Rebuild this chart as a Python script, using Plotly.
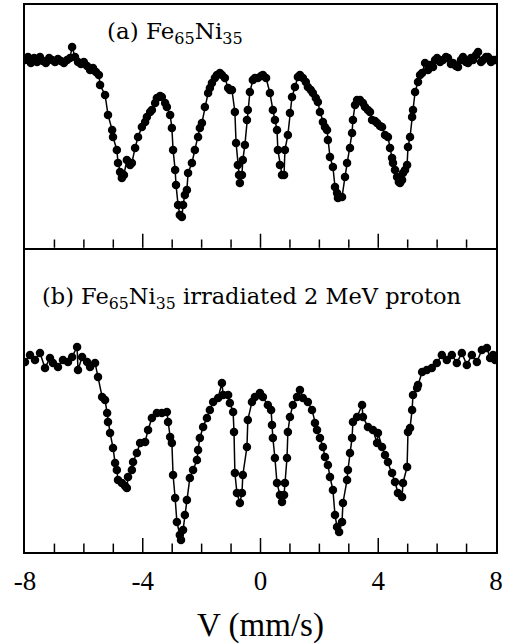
import plotly.graph_objects as go

# (a) Fe65Ni35 -- velocity (mm/s) and relative transmission (%)
v_a = [-8.00, -7.90, -7.80, -7.69, -7.59, -7.49, -7.39, -7.29, -7.18, -7.08,
       -6.98, -6.88, -6.78, -6.68, -6.57, -6.47, -6.40, -6.30, -6.20, -6.10,
       -6.00, -5.89, -5.79, -5.69, -5.59, -5.49, -5.45, -5.28, -5.18, -5.04,
       -5.01, -4.88, -4.84, -4.77, -4.71, -4.64, -4.54, -4.43, -4.37, -4.26,
       -4.16, -4.03, -3.92, -3.86, -3.75, -3.69, -3.58, -3.52, -3.41, -3.35,
       -3.24, -3.18, -3.07, -3.01, -2.97, -2.90, -2.87, -2.80, -2.74, -2.67,
       -2.63, -2.57, -2.50, -2.46, -2.33, -2.23, -2.12, -2.06, -1.99, -1.89,
       -1.78, -1.72, -1.65, -1.55, -1.48, -1.38, -1.31, -1.21, -1.10, -1.04,
       -0.97, -0.87, -0.83, -0.77, -0.73, -0.70, -0.63, -0.60, -0.53, -0.46,
       -0.43, -0.36, -0.26, -0.19, -0.09, 0.02, 0.08, 0.19, 0.32, 0.42,
       0.49, 0.56, 0.59, 0.66, 0.73, 0.80, 0.83, 0.93, 1.00, 1.07,
       1.17, 1.27, 1.34, 1.44, 1.54, 1.61, 1.71, 1.78, 1.88, 1.95,
       2.02, 2.12, 2.19, 2.26, 2.29, 2.36, 2.46, 2.53, 2.60, 2.63,
       2.70, 2.77, 2.87, 2.94, 3.04, 3.11, 3.14, 3.21, 3.28, 3.38,
       3.48, 3.55, 3.65, 3.72, 3.79, 3.89, 3.96, 4.06, 4.13, 4.23,
       4.33, 4.40, 4.47, 4.50, 4.57, 4.64, 4.70, 4.74, 4.81, 4.84,
       4.91, 4.98, 5.01, 5.08, 5.15, 5.18, 5.25, 5.35, 5.42, 5.49,
       5.59, 5.69, 5.76, 5.86, 5.93, 6.00, 6.10, 6.20, 6.30, 6.37,
       6.47, 6.54, 6.64, 6.71, 6.81, 6.88, 6.98, 7.05, 7.15, 7.22,
       7.32, 7.39, 7.49, 7.56, 7.66, 7.73, 7.83, 7.90, 7.97]
t_a = [100.0, 100.15, 99.85, 100.1, 99.9, 100.15, 99.95, 99.85, 100.1, 100.0,
       99.9, 100.05, 99.95, 99.85, 100.0, 100.1, 100.65, 100.15, 99.9, 99.8,
       99.9, 99.7, 99.5, 99.6, 99.4, 99.25, 98.75, 98.25, 97.25, 96.5,
       96.15, 95.5, 94.85, 94.4, 94.1, 94.25, 95.0, 94.75, 94.85, 95.6,
       96.15, 96.65, 96.9, 97.15, 97.4, 97.5, 97.85, 98.1, 98.2, 98.15,
       97.85, 97.65, 97.25, 96.6, 95.5, 94.5, 93.75, 92.75, 92.25, 92.15,
       92.75, 93.25, 93.5, 94.35, 94.85, 95.5, 96.15, 96.6, 96.85, 97.65,
       98.35, 98.6, 98.85, 99.1, 99.25, 99.35, 99.25, 99.1, 98.6, 98.5,
       98.5, 97.4, 95.85, 94.75, 94.25, 93.85, 94.25, 95.0, 95.75, 97.0,
       97.5, 98.4, 99.0, 99.1, 99.1, 99.2, 99.25, 99.1, 98.35, 97.5,
       97.0, 96.5, 95.5, 94.75, 94.25, 94.25, 95.5, 96.25, 97.35, 98.15,
       98.65, 99.15, 99.25, 99.1, 98.9, 98.65, 98.5, 98.35, 98.1, 97.9,
       97.4, 96.9, 96.65, 96.5, 96.0, 95.15, 94.65, 93.65, 93.35, 93.1,
       93.15, 93.15, 94.15, 94.85, 95.6, 96.35, 97.0, 97.75, 98.0, 98.0,
       97.85, 97.65, 97.5, 97.4, 97.0, 96.95, 96.85, 96.7, 96.65, 96.25,
       96.15, 95.6, 95.1, 94.85, 94.5, 94.15, 93.9, 93.85, 94.0, 94.35,
       94.5, 94.75, 95.65, 96.15, 97.15, 97.5, 98.4, 98.9, 99.25, 99.35,
       99.85, 99.5, 99.75, 99.65, 100.0, 100.1, 99.9, 100.0, 100.15, 100.1,
       99.8, 99.85, 99.7, 99.65, 100.0, 100.15, 99.9, 99.85, 100.1, 100.0,
       100.25, 100.4, 99.9, 100.0, 100.15, 100.15, 99.9, 100.0, 100.0]

# (b) Fe65Ni35 irradiated 2 MeV proton
v_b = [-8.00, -7.83, -7.66, -7.49, -7.32, -7.15, -7.05, -6.88, -6.71, -6.54,
       -6.40, -6.23, -6.20, -6.06, -5.89, -5.79, -5.62, -5.52, -5.38, -5.28,
       -5.21, -5.18, -5.11, -5.01, -4.94, -4.88, -4.84, -4.71, -4.60, -4.54,
       -4.50, -4.37, -4.33, -4.20, -4.09, -3.92, -3.82, -3.69, -3.52, -3.35,
       -3.18, -3.14, -3.07, -3.01, -2.97, -2.90, -2.84, -2.74, -2.70, -2.63,
       -2.57, -2.50, -2.40, -2.29, -2.16, -2.12, -2.06, -1.95, -1.82, -1.72,
       -1.61, -1.44, -1.31, -1.27, -1.10, -1.04, -0.93, -0.90, -0.87, -0.80,
       -0.70, -0.63, -0.60, -0.46, -0.43, -0.29, -0.19, -0.02, 0.08, 0.25,
       0.36, 0.39, 0.42, 0.49, 0.56, 0.66, 0.73, 0.80, 0.83, 0.90,
       0.93, 1.00, 1.10, 1.24, 1.34, 1.44, 1.61, 1.75, 1.85, 1.92,
       2.02, 2.12, 2.19, 2.29, 2.36, 2.46, 2.53, 2.60, 2.67, 2.77,
       2.80, 2.94, 2.97, 3.04, 3.11, 3.14, 3.28, 3.45, 3.48, 3.65,
       3.82, 3.96, 3.99, 4.13, 4.23, 4.33, 4.47, 4.57, 4.67, 4.81,
       4.84, 4.98, 5.01, 5.08, 5.15, 5.18, 5.32, 5.35, 5.49, 5.65,
       5.82, 5.99, 6.16, 6.33, 6.50, 6.67, 6.84, 7.01, 7.18, 7.35,
       7.52, 7.69, 7.80, 7.90, 7.97]
t_b = [100.0, 100.35, 100.1, 100.45, 99.7, 100.2, 99.95, 99.75, 100.1, 100.0,
       100.25, 100.75, 99.6, 100.25, 100.0, 99.75, 99.95, 99.25, 98.25, 98.1,
       97.45, 97.0, 96.45, 95.7, 94.95, 94.6, 94.1, 93.95, 93.8, 93.7,
       94.25, 94.6, 95.0, 95.45, 95.95, 96.0, 96.6, 97.2, 97.45, 97.45,
       97.5, 97.0, 96.25, 95.95, 94.35, 93.2, 92.0, 91.35, 91.1, 91.6,
       92.35, 93.1, 94.2, 94.6, 95.1, 95.6, 96.2, 96.75, 97.2, 97.6,
       98.0, 98.2, 98.95, 98.35, 98.35, 97.95, 97.5, 96.5, 94.45, 93.45,
       92.95, 93.45, 94.35, 95.75, 97.1, 98.0, 98.25, 98.45, 98.25, 97.85,
       97.6, 96.85, 96.2, 95.2, 93.95, 93.35, 93.0, 93.35, 93.95, 95.2,
       96.5, 97.25, 97.85, 98.25, 98.6, 98.2, 98.0, 97.6, 96.95, 96.6,
       96.2, 95.75, 95.25, 94.85, 94.25, 93.6, 92.35, 91.75, 91.5, 92.0,
       92.95, 94.1, 94.6, 95.45, 96.2, 97.0, 97.25, 97.85, 97.25, 96.75,
       96.6, 95.95, 96.45, 95.75, 95.35, 95.0, 94.45, 94.0, 93.45, 93.25,
       93.95, 94.75, 96.5, 96.7, 97.6, 98.35, 98.7, 98.85, 99.5, 99.6,
       99.7, 99.95, 100.35, 100.1, 100.35, 99.95, 100.45, 99.85, 100.35, 100.0,
       100.6, 100.7, 100.2, 100.35, 100.1]

x_ticks = [-8, -4, 0, 4, 8]
major_marks = [-4, 0, 4]
minor_marks = [-7, -6, -5, -3, -2, -1, 1, 2, 3, 5, 6, 7]

range_a = [90.6, 102.75]
range_b = [90.5, 105.7]

serif = "Liberation Serif"
label_font = "DejaVu Serif"
split = 0.556
pt = dict(mode="lines+markers", line=dict(color="black", width=1.5),
          marker=dict(color="black", size=8.5), showlegend=False)

fig = go.Figure()
fig.add_trace(go.Scatter(x=v_a, y=t_a, xaxis="x2", yaxis="y2", **pt))
fig.add_trace(go.Scatter(x=v_b, y=t_b, xaxis="x", yaxis="y", **pt))

# inward tick marks: vertical line markers centred on each panel's bottom
# edge, lower half clipped away by the plot area
for xa, ya, yr in (("x", "y", range_b), ("x2", "y2", range_a)):
    for marks, size in ((major_marks, 20), (minor_marks, 12)):
        fig.add_trace(go.Scatter(
            x=marks, y=[yr[0]] * len(marks), xaxis=xa, yaxis=ya,
            mode="markers", cliponaxis=True, showlegend=False,
            hoverinfo="skip",
            marker=dict(symbol="line-ns", size=size,
                        line=dict(color="black", width=1.5))))

ay = dict(showline=True, linecolor="black", linewidth=2, mirror=True,
          showticklabels=False, ticks="", showgrid=False, zeroline=False,
          automargin=False)

fig.update_layout(
    width=508, height=644,
    margin=dict(l=25, r=12, t=5, b=92),
    paper_bgcolor="white", plot_bgcolor="white",
    font=dict(family=serif, color="black"),
    xaxis=dict(anchor="y", range=[-8, 8], showline=True, linecolor="black",
               linewidth=2, mirror=False, showgrid=False, zeroline=False,
               automargin=False, tickmode="array", tickvals=x_ticks,
               ticks="", labelalias={"\u22128": "-8", "\u22124": "-4"},
               tickfont=dict(size=27, family=serif), ticklabelstandoff=4,
               title=dict(text="V (mm/s)", font=dict(size=33, family=serif),
                          standoff=19)),
    xaxis2=dict(anchor="y2", range=[-8, 8], showline=True,
                linecolor="black", linewidth=2, mirror=True, showgrid=False,
                zeroline=False, automargin=False, ticks="",
                showticklabels=False),
    yaxis=dict(ay, domain=[0, split], range=range_b),
    yaxis2=dict(ay, domain=[split, 1], range=range_a),
    annotations=[
        dict(text="(a) Fe<sub>65</sub>Ni<sub>35</sub>", x=-5.28, y=101.35,
             xref="x2", yref="y2", xanchor="left", yanchor="middle",
             showarrow=False, font=dict(size=23, family=label_font)),
        dict(text="(b) Fe<sub>65</sub>Ni<sub>35</sub> irradiated 2 MeV proton",
             x=-7.49, y=103.2, xref="x", yref="y", xanchor="left",
             yanchor="middle", showarrow=False,
             font=dict(size=22.5, family=label_font)),
    ],
)

fig.write_html("out.html", config={"displayModeBar": False},
               post_script="document.body.style.margin='0';")
